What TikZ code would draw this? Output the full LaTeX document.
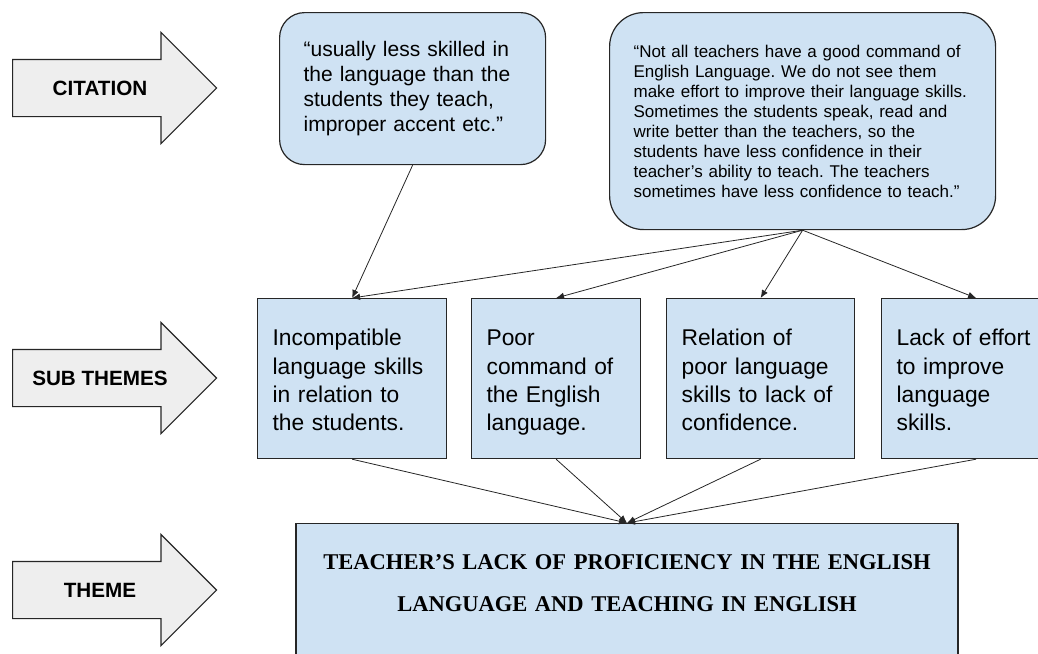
\documentclass[tikz,border=0pt]{standalone}
\usepackage{fontspec}
\setmainfont{Liberation Sans}
\newfontfamily\themefont{Liberation Serif}
\usetikzlibrary{arrows.meta}
\usetikzlibrary{shapes.arrows}
\usepackage{xcolor}
\definecolor{boxblue}{HTML}{CFE2F3}
\definecolor{taggray}{HTML}{EEEEEE}
\colorlet{linegray}{black!85}
\frenchspacing
\tikzset{
  >={Latex[length=6pt,width=5pt]},
  tag/.style={single arrow, draw=linegray, fill=taggray, line width=0.9pt, minimum height=153pt, minimum width=82.5pt, single arrow head extend=20.25pt, inner xsep=0pt, inner ysep=21pt, anchor=tail},
  tag text/.style={font=\fontsize{15.5}{18}\selectfont\bfseries},
  quote box/.style={draw=linegray, fill=boxblue, line width=0.9pt, anchor=north west, align=left, inner xsep=18pt},
  sub box/.style={draw=linegray, fill=boxblue, line width=0.9pt, anchor=north west, align=left, inner xsep=11.25pt, text width=#1, text height=20.8pt, execute at end node=\strut, minimum height=120pt, font=\fontsize{17.1}{21.2}\selectfont},
  theme box/.style={draw=linegray, fill=boxblue, line width=0.9pt, anchor=north, align=center, inner xsep=0pt, inner ysep=23.5pt, text width=496.5pt, text depth=60pt, font=\themefont\bfseries\fontsize{16.9}{31.5}\selectfont},
  connect/.style={->, line width=0.6pt, linegray}
}

\begin{document}
\begin{tikzpicture}[x=0.75pt,y=-0.75pt]
  \useasboundingbox (0,0) rectangle (1038,653);

  % --- LEFT TAGS ---
  \node[tag] (tag-cite) at (12, 88) {};
  \node[tag text] (cite-text) at (100, 88) {CITATION};
  \node[tag] (tag-sub) at (12, 378) {};
  \node[tag text] (sub-text) at (100, 378) {SUB THEMES};
  \node[tag] (tag-theme) at (12, 590) {};
  \node[tag text] (theme-text) at (100, 590) {THEME};

  % --- CITATIONS ---
  \node[quote box, rounded corners=18.75pt, text width=163.5pt, minimum height=114pt, font=\fontsize{15.75}{18.75}\selectfont] (quote-1) at (279, 12)
    {“usually less skilled in\\the language than the\\students they teach,\\improper accent etc.”};
  \node[quote box, rounded corners=25.5pt, text width=253.5pt, minimum height=162.75pt, font=\fontsize{12.75}{15}\selectfont] (quote-2) at (609, 12)
    {“Not all teachers have a good command of\\English Language. We do not see them\\make effort to improve their language skills.\\Sometimes the students speak, read and\\write better than the teachers, so the\\students have less confidence in their\\teacher’s ability to teach. The teachers\\sometimes have less confidence to teach.”};

  % --- SUB THEMES ---
  \node[sub box=119.25pt] (sub-1) at (257, 298) {Incompatible\\language skills\\in relation to\\the students.};
  \node[sub box=104.25pt] (sub-2) at (471, 298) {Poor\\command of\\the English\\language.};
  \node[sub box=118.5pt] (sub-3) at (666, 298) {Relation of\\poor language\\skills to lack of\\confidence.};
  \node[sub box=119.25pt] (sub-4) at (881, 298) {Lack of effort\\to improve\\language\\skills.};

  % --- THEME ---
  \node[theme box] (theme) at (627, 523) {TEACHER’S LACK OF PROFICIENCY IN THE ENGLISH\\LANGUAGE AND TEACHING IN ENGLISH};

  % Connections
  \draw[connect] (quote-1.south) -- (sub-1.north);
  \foreach \j in {1,2,3,4} \draw[connect] (quote-2.south) -- (sub-\j.north);
  \foreach \i in {1,2,3,4} \draw[connect] (sub-\i.south) -- (theme.north);

\end{tikzpicture}
\end{document}
